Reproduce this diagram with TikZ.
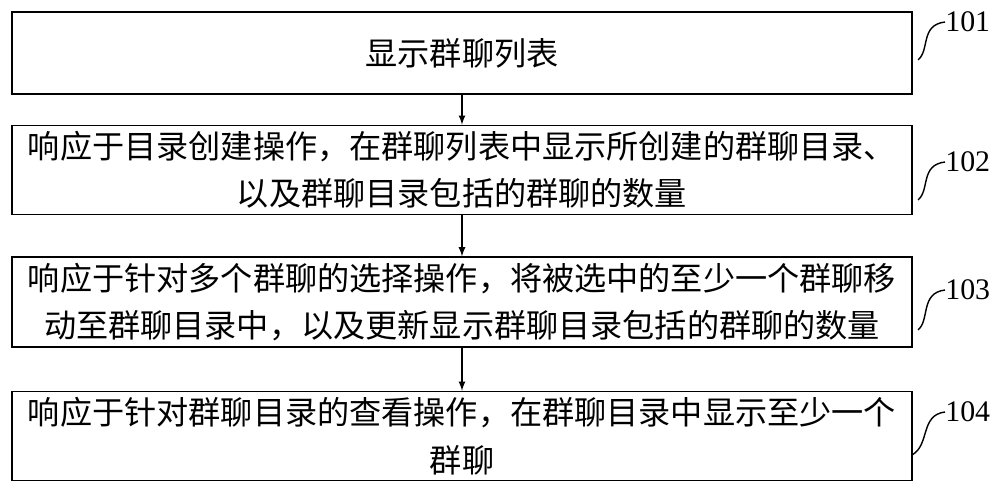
\documentclass[tikz,border=0pt]{standalone}
\usepackage{fontspec}
\setmainfont{Liberation Serif}
\newfontfamily\cjk{Noto Sans CJK SC}
\usetikzlibrary{positioning}
\begin{document}
\begin{tikzpicture}[x=0.02cm,y=-0.02cm,
    stepbox/.style={draw, thick, minimum width=18cm, align=center, font=\cjk\fontsize{18.3}{27}\selectfont},
    arrow/.style={-latex, thick},
    lead/.style={thick},
    tag/.style={font=\fontsize{17}{20}\selectfont, inner sep=0pt},
]
    \useasboundingbox (0,0) rectangle (1000,489);

    \node[stepbox, minimum height=1.64cm] (s1) at (462,53) {显示群聊列表};
    \node[stepbox, minimum height=1.72cm] (s2) at (462,170) {响应于目录创建操作，在群聊列表中显示所创建的群聊目录、\\以及群聊目录包括的群聊的数量};
    \node[stepbox, minimum height=1.72cm] (s3) at (462,302) {响应于针对多个群聊的选择操作，将被选中的至少一个群聊移\\动至群聊目录中，以及更新显示群聊目录包括的群聊的数量};
    \node[stepbox, minimum height=1.68cm] (s4) at (462,436) {响应于针对群聊目录的查看操作，在群聊目录中显示至少一个\\群聊};

    \draw[arrow] (s1) -- (s2);
    \draw[arrow] (s2) -- (s3);
    \draw[arrow] (s3) -- (s4);

    % step numbers
    \node[tag, anchor=west] (t1) at (945,22) {101};
    \node[tag, anchor=west] (t2) at (945,162) {102};
    \node[tag, anchor=west] (t3) at (945,290) {103};
    \node[tag, anchor=west] (t4) at (945,412) {104};

    \draw[lead] (918,60) .. controls (930,50) and (920,25) .. (t1.west);
    \draw[lead] (918,200) .. controls (930,190) and (920,165) .. (t2.west);
    \draw[lead] (918,330) .. controls (930,320) and (920,293) .. (t3.west);
    \draw[lead] (912,455) .. controls (930,445) and (920,415) .. (t4.west);
\end{tikzpicture}
\end{document}
